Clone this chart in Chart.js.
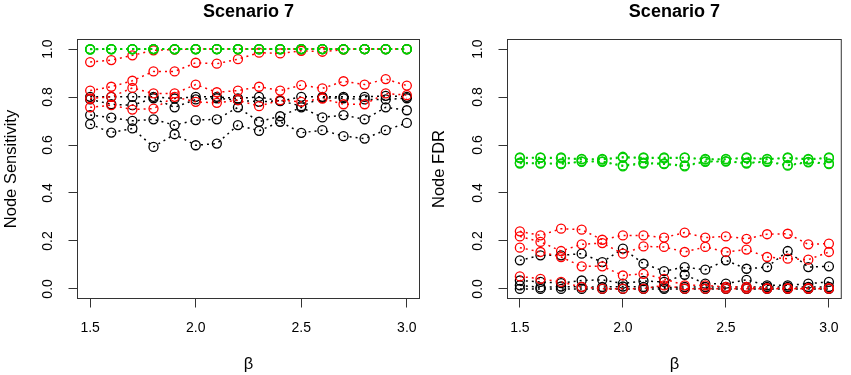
<!DOCTYPE html>
<html lang="en">
<head>
<meta charset="UTF-8">
<title>Scenario 7</title>
<script src="https://cdn.jsdelivr.net/npm/chart.js"></script>
<style>
    body { margin: 0; background: #fff; }
    .wrap { position: relative; width: 851px; height: 375px; }
    .panel { position: absolute; top: 0; height: 375px; }
    #left { left: 0; width: 430px; }
    #right { left: 430px; width: 421px; }
</style>
</head>
<body>
<div class="wrap">
    <div class="panel" id="left"><canvas id="sensChart" width="430" height="375"></canvas></div>
    <div class="panel" id="right"><canvas id="fdrChart" width="421" height="375"></canvas></div>
</div>
<script>
// x values (beta) and axis ticks
const beta = [1.5, 1.6, 1.7, 1.8, 1.9, 2.0, 2.1, 2.2, 2.3, 2.4, 2.5, 2.6, 2.7, 2.8, 2.9, 3.0];
const xTicks = [1.5, 2.0, 2.5, 3.0];
const yTicks = [0.0, 0.2, 0.4, 0.6, 0.8, 1.0];

// Node Sensitivity
const sensGreen1 = [1.0, 1.0, 1.0, 1.0, 1.0, 1.0, 1.0, 1.0, 1.0, 1.0, 1.0, 1.0, 1.0, 1.0, 1.0, 1.0];
const sensGreen2 = [1.0, 1.0, 1.0, 1.0, 1.0, 1.0, 1.0, 1.0, 1.0, 1.0, 1.0, 1.0, 1.0, 1.0, 1.0, 1.0];
const sensGreen3 = [0.999, 0.999, 1.0, 1.0, 0.999, 1.0, 1.0, 0.999, 1.0, 1.0, 1.0, 1.0, 0.999, 1.0, 1.0, 1.0];
const sensGreen4 = [0.998, 1.0, 0.999, 1.0, 1.0, 0.999, 1.0, 1.0, 0.999, 0.999, 1.0, 1.0, 1.0, 1.0, 0.999, 0.999];
const sensRed1 = [0.946, 0.954, 0.974, 0.995, 0.998, 1.0, 1.0, 1.0, 1.0, 1.0, 1.0, 1.0, 1.0, 1.0, 1.0, 1.0];
const sensRed2 = [0.827, 0.843, 0.868, 0.907, 0.907, 0.943, 0.939, 0.958, 0.985, 0.982, 0.993, 0.989, 0.998, 1.0, 1.0, 1.0];
const sensRed3 = [0.794, 0.801, 0.838, 0.815, 0.815, 0.852, 0.820, 0.827, 0.843, 0.827, 0.850, 0.836, 0.866, 0.852, 0.875, 0.848];
const sensRed4 = [0.757, 0.766, 0.748, 0.752, 0.801, 0.780, 0.776, 0.787, 0.762, 0.787, 0.780, 0.794, 0.770, 0.770, 0.815, 0.808];
const sensBlack1 = [0.801, 0.801, 0.801, 0.801, 0.794, 0.801, 0.801, 0.794, 0.801, 0.783, 0.801, 0.801, 0.801, 0.801, 0.805, 0.801];
const sensBlack2 = [0.790, 0.770, 0.766, 0.795, 0.757, 0.790, 0.795, 0.787, 0.780, 0.785, 0.762, 0.797, 0.795, 0.790, 0.790, 0.795];
const sensBlack3 = [0.725, 0.714, 0.701, 0.707, 0.683, 0.704, 0.707, 0.757, 0.697, 0.720, 0.757, 0.715, 0.725, 0.707, 0.757, 0.745];
const sensBlack4 = [0.687, 0.652, 0.669, 0.592, 0.645, 0.599, 0.606, 0.683, 0.659, 0.697, 0.651, 0.662, 0.637, 0.627, 0.662, 0.692];

// Node FDR
const fdrGreen1 = [0.548, 0.548, 0.548, 0.542, 0.542, 0.551, 0.548, 0.548, 0.548, 0.542, 0.542, 0.548, 0.542, 0.548, 0.542, 0.548];
const fdrGreen2 = [0.545, 0.546, 0.544, 0.540, 0.539, 0.547, 0.545, 0.544, 0.546, 0.539, 0.540, 0.545, 0.540, 0.545, 0.539, 0.545];
const fdrGreen3 = [0.526, 0.525, 0.523, 0.532, 0.532, 0.515, 0.526, 0.523, 0.515, 0.532, 0.533, 0.526, 0.532, 0.517, 0.530, 0.523];
const fdrGreen4 = [0.523, 0.523, 0.520, 0.530, 0.530, 0.511, 0.523, 0.520, 0.511, 0.530, 0.531, 0.523, 0.530, 0.514, 0.528, 0.520];
const fdrRed1 = [0.240, 0.223, 0.251, 0.247, 0.205, 0.223, 0.223, 0.214, 0.235, 0.214, 0.219, 0.209, 0.228, 0.230, 0.186, 0.189];
const fdrRed2 = [0.219, 0.196, 0.158, 0.186, 0.191, 0.147, 0.177, 0.175, 0.154, 0.175, 0.154, 0.164, 0.133, 0.126, 0.122, 0.154];
const fdrRed3 = [0.172, 0.154, 0.133, 0.094, 0.094, 0.056, 0.063, 0.042, 0.015, 0.015, 0.008, 0.008, 0.003, 0.003, 0.003, 0.003];
const fdrRed4 = [0.052, 0.042, 0.029, 0.008, 0.001, 0.001, 0.001, 0.015, 0.001, 0.001, 0.001, 0.001, 0.001, 0.001, 0.001, 0.001];
const fdrBlack1 = [0.119, 0.140, 0.140, 0.147, 0.112, 0.168, 0.105, 0.074, 0.091, 0.080, 0.119, 0.084, 0.091, 0.158, 0.091, 0.094];
const fdrBlack2 = [0.035, 0.029, 0.024, 0.035, 0.038, 0.022, 0.033, 0.029, 0.059, 0.022, 0.022, 0.038, 0.015, 0.015, 0.022, 0.029];
const fdrBlack3 = [0.015, 0.006, 0.010, 0.008, 0.008, 0.010, 0.008, 0.005, 0.008, 0.008, 0.008, 0.008, 0.008, 0.008, 0.008, 0.008];
const fdrBlack4 = [0.0, 0.0, 0.0, 0.0, 0.0, 0.0, 0.0, 0.0, 0.0, 0.0, 0.0, 0.0, 0.0, 0.0, 0.0, 0.0];

const GREEN = '#00cd00';
const RED = '#ff0000';
const BLACK = '#000000';
const FONT = '"Liberation Sans", Arial, Helvetica, sans-serif';

Chart.defaults.font.family = FONT;
Chart.defaults.color = '#000';

function series(values, color) {
    return {
        data: values,
        borderColor: color,
        borderWidth: 1.5,
        borderDash: [2, 4],
        pointStyle: 'circle',
        pointRadius: 4.5,
        pointHoverRadius: 4.5,
        pointBorderWidth: 1.3,
        pointBorderColor: color,
        pointBackgroundColor: 'rgba(0,0,0,0)',
        fill: false,
        tension: 0
    };
}

// R-style box round the plot region
const boxPlugin = {
    id: 'plotBox',
    afterDraw(chart) {
        const a = chart.chartArea;
        const ctx = chart.ctx;
        ctx.save();
        ctx.strokeStyle = '#333';
        ctx.lineWidth = 1;
        ctx.strokeRect(a.left, a.top, a.right - a.left, a.bottom - a.top);
        ctx.restore();
    }
};

function makePanel(id, yLabel, groups, rightPad, yTitlePad) {
    const datasets = [];
    groups.forEach(g => g.lines.forEach(v => datasets.push(series(v, g.color))));
    new Chart(document.getElementById(id), {
        type: 'line',
        data: { labels: beta, datasets: datasets },
        plugins: [boxPlugin],
        options: {
            responsive: false,
            animation: false,
            events: [],
            layout: { padding: { left: 0, right: rightPad, top: 0, bottom: 0 } },
            plugins: {
                legend: { display: false },
                tooltip: { enabled: false },
                title: {
                    display: true,
                    text: 'Scenario 7',
                    fullSize: false,
                    color: '#000',
                    font: { size: 18, weight: 'bold', family: FONT },
                    padding: { top: 1.5, bottom: 16.4 }
                }
            },
            scales: {
                x: {
                    type: 'linear',
                    min: 1.44,
                    max: 3.06,
                    afterBuildTicks: s => { s.ticks = xTicks.map(v => ({ value: v })); },
                    afterFit: s => { s.height = 76.5; },
                    border: { display: false },
                    grid: { drawOnChartArea: false, drawTicks: true, tickLength: 9, color: '#333' },
                    ticks: {
                        autoSkip: false,
                        maxRotation: 0,
                        padding: 12,
                        color: '#000',
                        font: { size: 14 },
                        callback: v => v.toFixed(1)
                    },
                    title: {
                        display: true,
                        text: 'β',
                        color: '#000',
                        font: { size: 16.5 },
                        padding: { top: 0, bottom: 1 }
                    }
                },
                y: {
                    type: 'linear',
                    min: -0.04,
                    max: 1.04,
                    afterBuildTicks: s => { s.ticks = yTicks.map(v => ({ value: v })); },
                    afterFit: s => { s.width = 77.5; },
                    border: { display: false },
                    grid: { drawOnChartArea: false, drawTicks: true, tickLength: 9, color: '#333' },
                    ticks: {
                        autoSkip: false,
                        minRotation: 90,
                        maxRotation: 90,
                        crossAlign: 'center',
                        padding: 11,
                        color: '#000',
                        font: { size: 14 },
                        callback: v => v.toFixed(1)
                    },
                    title: {
                        display: true,
                        text: yLabel,
                        color: '#000',
                        font: { size: 16.5 },
                        padding: { top: yTitlePad, bottom: 0 }
                    }
                }
            }
        }
    });
}

makePanel('sensChart', 'Node Sensitivity', [
    { color: GREEN, lines: [sensGreen1, sensGreen2, sensGreen3, sensGreen4] },
    { color: RED, lines: [sensRed1, sensRed2, sensRed3, sensRed4] },
    { color: BLACK, lines: [sensBlack1, sensBlack2, sensBlack3, sensBlack4] }
], 10.5, 2);

makePanel('fdrChart', 'Node FDR', [
    { color: GREEN, lines: [fdrGreen1, fdrGreen2, fdrGreen3, fdrGreen4] },
    { color: RED, lines: [fdrRed1, fdrRed2, fdrRed3, fdrRed4] },
    { color: BLACK, lines: [fdrBlack1, fdrBlack2, fdrBlack3, fdrBlack4] }
], 4, 0);
</script>
</body>
</html>
